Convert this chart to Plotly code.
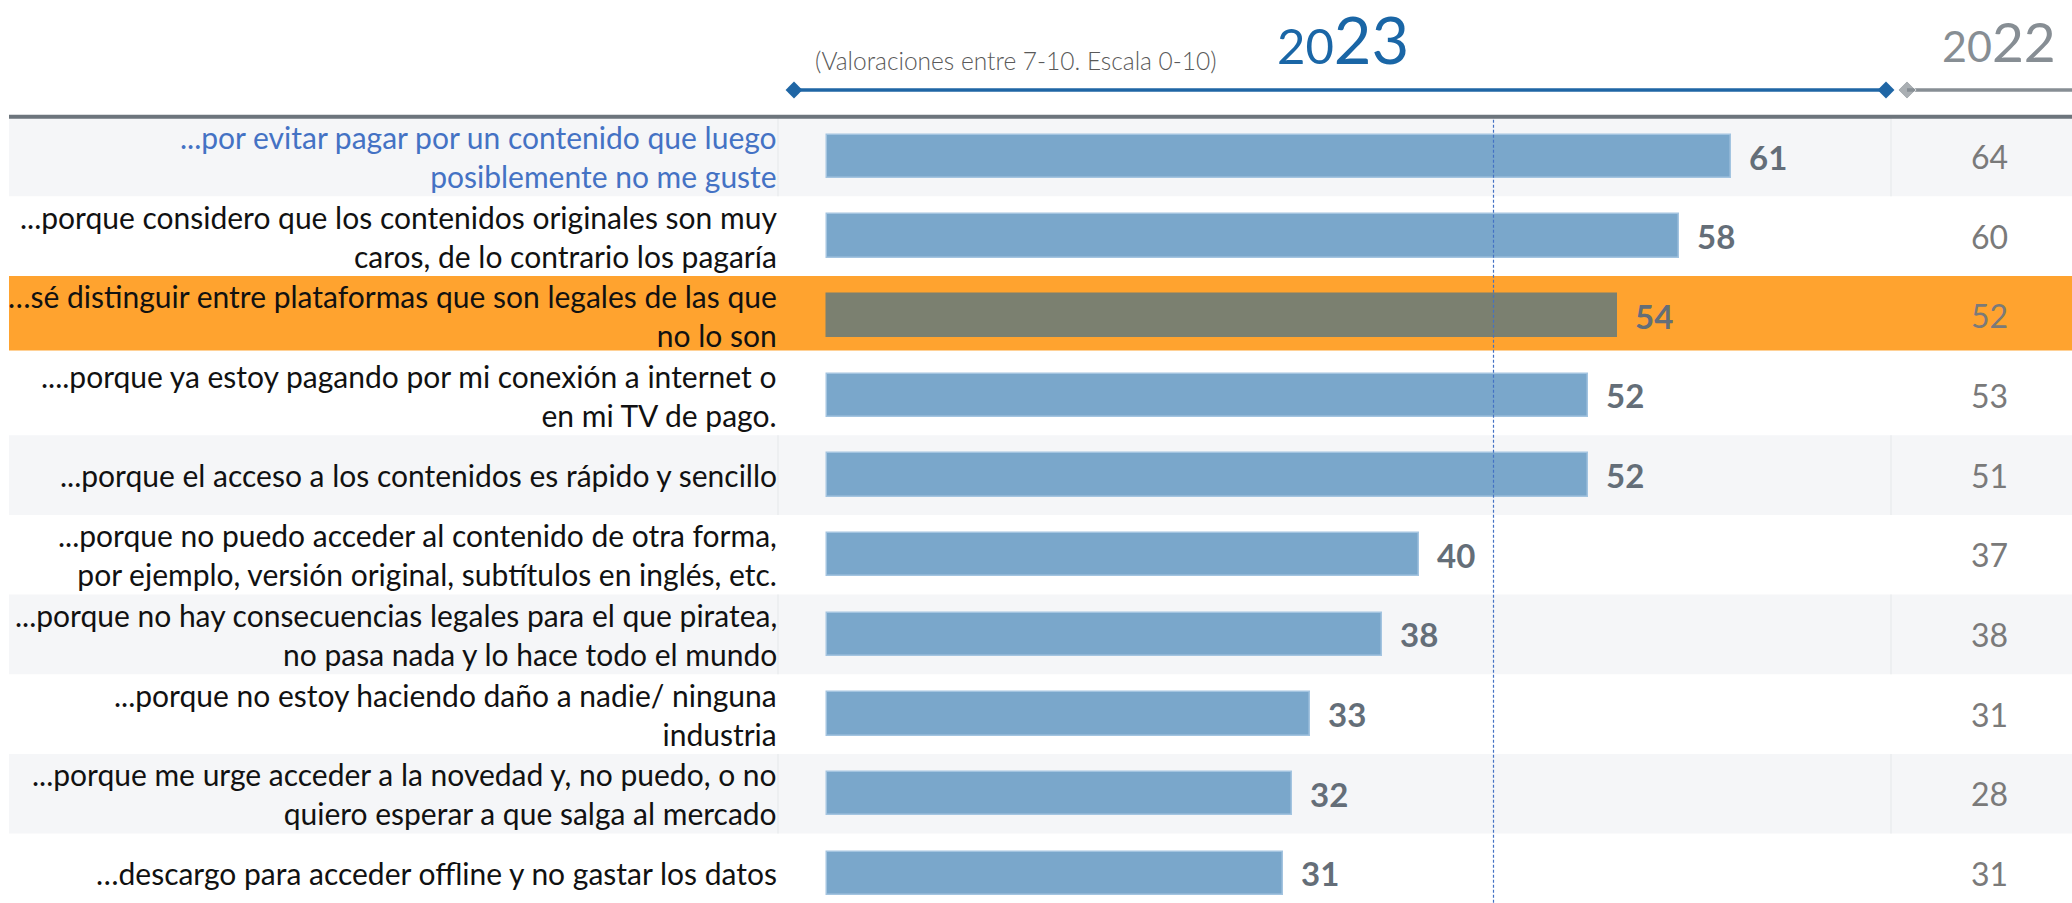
import plotly.graph_objects as go

# ---------------- data ----------------
labels = [
    "...por evitar pagar por un contenido que luego<br>posiblemente no me guste",
    "...porque considero que los contenidos originales son muy<br>caros, de lo contrario los pagaría",
    "…sé distinguir entre plataformas que son legales de las que<br>no lo son",
    "....porque ya estoy pagando por mi conexión a internet o<br>en mi TV de pago.",
    "...porque el acceso a los contenidos es rápido y sencillo",
    "...porque no puedo acceder al contenido de otra forma,<br>por ejemplo, versión original, subtítulos en inglés, etc.",
    "...porque no hay consecuencias legales para el que piratea,<br>no pasa nada y lo hace todo el mundo",
    "...porque no estoy haciendo daño a nadie/ ninguna<br>industria",
    "...porque me urge acceder a la novedad y, no puedo, o no<br>quiero esperar a que salga al mercado",
    "…descargo para acceder offline y no gastar los datos",
]
# 2023 values as labelled, and bar lengths
v2023 = [61, 58, 54, 52, 52, 40, 38, 33, 32, 31]
v2023_bar = [61.0, 57.5, 53.3, 51.4, 51.4, 40.0, 37.5, 32.6, 31.4, 30.8]
v2022 = [64, 60, 52, 53, 51, 37, 38, 31, 28, 31]
highlight_row = 2
reference_value = 45
subtitle = "(Valoraciones entre 7-10. Escala 0-10)"
year_now = ("20", "23")
year_prev = ("20", "22")

# ---------------- layout geometry ----------------
W, H = 2072, 903
X0PX, PPU = 826.6, 14.82      # pixel of value 0, pixels per unit
ROW0PX, ROWPX = 156.5, 79.65  # pixel of first row centre, row pitch
FONT = "Lato"

BLUE_BAR = "#7aa7cb"
BLUE_EDGE = "#a3c4e0"
HL_BAR = "#7b8070"
ORANGE = "#ffa32f"
BAND = "#f5f6f8"

n = len(labels)
rows = list(range(n))

fig = go.Figure()

bar_colors = [HL_BAR if i == highlight_row else BLUE_BAR for i in rows]
edge_colors = [HL_BAR if i == highlight_row else BLUE_EDGE for i in rows]
fig.add_trace(go.Bar(
    x=v2023_bar, y=rows, orientation="h", width=0.544,
    marker=dict(color=bar_colors, line=dict(color=edge_colors, width=1.5)),
    hoverinfo="skip", showlegend=False,
))

# header decoration lines in pixel overlay axes
fig.add_trace(go.Scatter(
    x=[794, 1886], y=[90, 90], xaxis="x2", yaxis="y2", mode="lines+markers",
    line=dict(color="#1f66a5", width=3.5),
    marker=dict(symbol="diamond", size=13, color="#1f66a5"),
    hoverinfo="skip", showlegend=False,
))
fig.add_trace(go.Scatter(
    x=[1907, 2080], y=[90, 90], xaxis="x2", yaxis="y2", mode="lines+markers",
    line=dict(color="#878e94", width=3.5),
    marker=dict(symbol="diamond", size=[14, 0], color="#878e94"),
    hoverinfo="skip", showlegend=False,
))

shapes = []
for i in rows:
    if i == highlight_row:
        shapes.append(dict(type="rect", xref="paper", yref="y", x0=9 / W, x1=1,
                           y0=i - 0.5, y1=i + 0.435, fillcolor=ORANGE, line=dict(width=0),
                           layer="below"))
    elif i % 2 == 0:
        shapes.append(dict(type="rect", xref="paper", yref="y", x0=9 / W, x1=1,
                           y0=i - 0.5, y1=i + 0.5, fillcolor=BAND, line=dict(width=0),
                           layer="below"))
        for xp in (778, 1891):
            shapes.append(dict(type="line", xref="paper", yref="y", x0=xp / W, x1=xp / W,
                               y0=i - 0.5, y1=i + 0.5, line=dict(color="#eaecef", width=1.5),
                               layer="below"))

# top separator
shapes.append(dict(type="line", xref="paper", yref="y", x0=9 / W, x1=1, y0=-0.5, y1=-0.5,
                   line=dict(color="#6d757c", width=4), layer="above"))
# reference dashed line
shapes.append(dict(type="line", xref="x", yref="y", x0=reference_value, x1=reference_value,
                   y0=-0.46, y1=n + 1, line=dict(color="#4472c4", width=1.2, dash="3px,2px"),
                   layer="above"))

ann = []
for i in rows:
    ann.append(dict(
        x=779 / W, xref="paper", y=i, yref="y", text=labels[i], showarrow=False,
        xanchor="right", yanchor="middle", align="right",
        font=dict(family=FONT, size=30, color="#4472c4" if i == 0 else "#111111"),
    ))
    ann.append(dict(
        x=v2023_bar[i], xref="x", y=i, yref="y", text=str(v2023[i]), showarrow=False,
        xanchor="left", yanchor="middle", xshift=16,
        font=dict(family=FONT, size=33, color="#646e78", weight="bold"),
    ))
    ann.append(dict(
        x=1989.5 / W, xref="paper", y=i, yref="y", text=str(v2022[i]), showarrow=False,
        xanchor="center", yanchor="middle",
        font=dict(family=FONT, size=32, color="#7a7a7a"),
    ))

ann.append(dict(
    x=813, xref="x2", y=60, yref="y2", text=subtitle, showarrow=False,
    xanchor="left", yanchor="middle",
    font=dict(family=FONT, size=24.5, color="#595959", weight=300),
))
ann.append(dict(
    x=1275, xref="x2", y=80, yref="y2",
    text=f"<span style='font-size:49px'>{year_now[0]}</span><span style='font-size:65px'>{year_now[1]}</span>",
    showarrow=False, xanchor="left", yanchor="bottom",
    font=dict(family=FONT, size=65, color="#1a66a6", weight=400),
))
ann.append(dict(
    x=1940, xref="x2", y=76, yref="y2",
    text=f"<span style='font-size:43px'>{year_prev[0]}</span><span style='font-size:55px'>{year_prev[1]}</span>",
    showarrow=False, xanchor="left", yanchor="bottom",
    font=dict(family=FONT, size=55, color="#878e94", weight=400),
))

fig.update_layout(
    width=W, height=H, margin=dict(l=0, r=0, t=0, b=0),
    paper_bgcolor="white", plot_bgcolor="white",
    xaxis=dict(range=[-X0PX / PPU, (W - X0PX) / PPU], visible=False, fixedrange=True),
    yaxis=dict(range=[(H - ROW0PX) / ROWPX, -ROW0PX / ROWPX], visible=False, fixedrange=True),
    xaxis2=dict(range=[0, W], overlaying="x", visible=False, fixedrange=True),
    yaxis2=dict(range=[H, 0], overlaying="y", visible=False, fixedrange=True),
    shapes=shapes, annotations=ann, bargap=0,
)

fig.write_html("out.html", config={"displayModeBar": False},
               post_script="document.body.style.margin='0';document.body.style.overflow='hidden';")
